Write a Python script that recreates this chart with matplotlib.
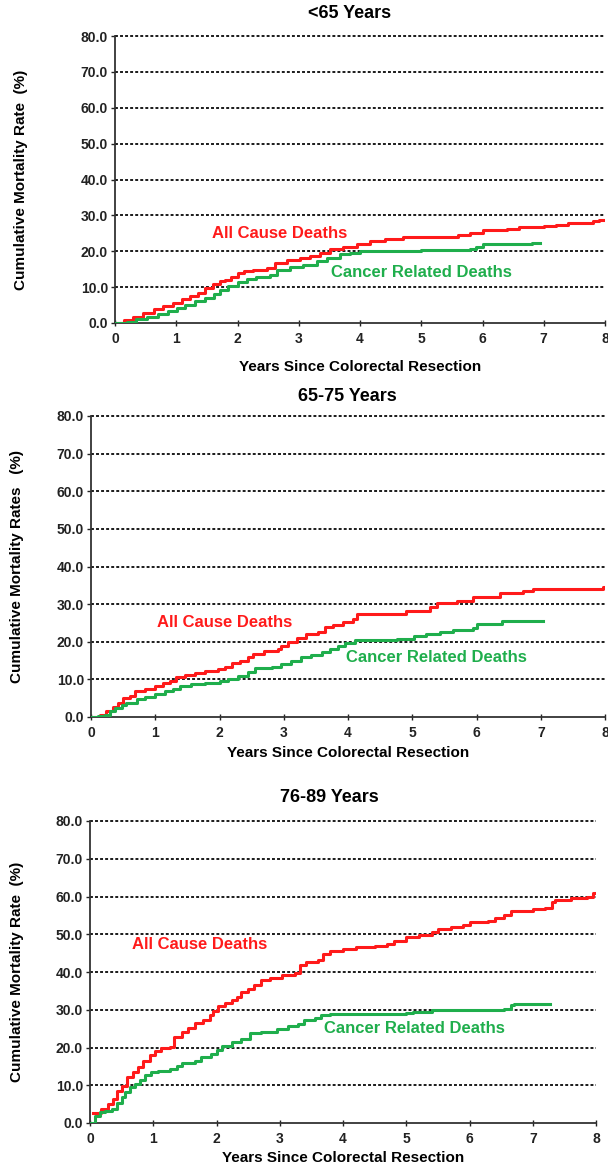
import matplotlib
matplotlib.use("Agg")
from matplotlib import pyplot as plt

plt.rcParams['font.family'] = ['Liberation Sans', 'DejaVu Sans']

titles = ["<65 Years", "65-75 Years", "76-89 Years"]
ylabels = ["Cumulative Mortality Rate  (%)",
           "Cumulative Mortality Rates   (%)",
           "Cumulative Mortality Rate  (%)"]
xlabel = "Years Since Colorectal Resection"
yticks = [0, 10, 20, 30, 40, 50, 60, 70, 80]
xticks = [0, 1, 2, 3, 4, 5, 6, 7, 8]

# <65 years
t_all_1 = [0, 0.14, 0.3, 0.46, 0.63, 0.79, 0.95, 1.09, 1.22, 1.36, 1.47, 1.6, 1.71, 1.8,
           1.9, 2.01, 2.1, 2.26, 2.48, 2.61, 2.8, 3.02, 3.18, 3.35, 3.51, 3.73, 3.95, 4.16,
           4.4, 4.7, 5.5, 5.6, 5.8, 6.0, 6.4, 6.6, 7.0, 7.2, 7.4, 7.8, 7.9, 8.0]
y_all_1 = [0, 0.8, 1.8, 2.9, 3.8, 4.8, 5.7, 6.6, 7.4, 8.5, 9.7, 10.9, 11.6, 12.1,
           12.8, 13.9, 14.4, 14.9, 15.3, 16.7, 17.5, 18.1, 18.8, 19.5, 20.5, 21.2, 22.1, 22.8,
           23.3, 24.0, 24.0, 24.5, 25.2, 25.9, 26.2, 26.8, 27.0, 27.4, 27.9, 28.3, 28.8, 28.8]
t_can_1 = [0, 0.19, 0.35, 0.52, 0.71, 0.87, 1.01, 1.14, 1.31, 1.47, 1.61, 1.71, 1.85, 2.01,
           2.15, 2.31, 2.53, 2.64, 2.86, 3.07, 3.29, 3.46, 3.67, 3.84, 4.0, 5.0, 5.8, 5.9,
           6.0, 6.75, 6.8, 6.94]
y_can_1 = [0, 0.4, 1.0, 1.8, 2.5, 3.4, 4.1, 5.0, 6.0, 6.9, 8.1, 9.1, 10.2, 11.3,
           12.2, 12.8, 13.5, 14.9, 15.6, 16.3, 17.2, 18.1, 19.1, 19.5, 20.0, 20.3, 20.6, 21.2,
           21.9, 21.9, 22.2, 22.2]

# 65-75 years
t_all_2 = [0, 0.14, 0.24, 0.35, 0.42, 0.5, 0.61, 0.68, 0.84, 0.99, 1.12, 1.23, 1.33, 1.46,
           1.62, 1.77, 1.98, 2.08, 2.19, 2.32, 2.45, 2.52, 2.7, 2.91, 2.96, 3.07, 3.2, 3.35,
           3.53, 3.64, 3.77, 3.92, 4.08, 4.14, 4.65, 4.91, 5.28, 5.38, 5.69, 5.95, 6.37,
           6.73, 6.88, 7.97, 8.0]
y_all_2 = [0, 0.5, 1.6, 2.7, 3.8, 5.0, 5.6, 6.8, 7.4, 8.3, 9.0, 9.6, 10.7, 11.2,
           11.8, 12.3, 12.8, 13.4, 14.3, 15.0, 15.9, 16.8, 17.5, 18.1, 19.0, 19.9, 21.1, 22.0,
           22.6, 23.9, 24.4, 25.3, 26.0, 27.3, 27.5, 28.3, 29.2, 30.4, 30.8, 31.9, 33.0,
           33.5, 33.9, 34.6, 34.6]
t_can_2 = [0, 0.11, 0.22, 0.3, 0.37, 0.48, 0.55, 0.71, 0.84, 0.99, 1.15, 1.28, 1.38, 1.56,
           1.77, 2.0, 2.13, 2.29, 2.45, 2.55, 2.81, 2.96, 3.12, 3.27, 3.43, 3.59, 3.72, 3.84,
           3.95, 4.11, 4.76, 5.02, 5.22, 5.43, 5.64, 5.95, 6.0, 6.31, 6.39, 7.04]
y_can_2 = [0, 0.2, 0.5, 1.6, 2.5, 3.2, 3.8, 4.7, 5.4, 6.2, 7.0, 7.4, 8.3, 8.8,
           9.0, 9.5, 10.1, 11.0, 11.9, 12.9, 13.4, 14.1, 15.0, 15.9, 16.5, 17.2, 18.1, 18.8,
           19.6, 20.4, 20.6, 21.5, 22.1, 22.7, 23.0, 23.7, 24.6, 24.8, 25.5, 25.5]

# 76-89 years
t_all_3 = [0.05, 0.18, 0.29, 0.37, 0.42, 0.5, 0.58, 0.68, 0.76, 0.84, 0.95, 1.03, 1.13, 1.26,
           1.33, 1.45, 1.55, 1.66, 1.79, 1.9, 1.95, 2.03, 2.13, 2.24, 2.32, 2.39, 2.5, 2.6,
           2.71, 2.84, 3.03, 3.24, 3.32, 3.42, 3.61, 3.68, 3.79, 4.0, 4.2, 4.5, 4.7, 4.8, 5.0,
           5.2, 5.4, 5.5, 5.7, 5.9, 6.0, 6.3, 6.4, 6.55, 6.65, 7.0, 7.2, 7.3, 7.35, 7.6, 7.85,
           7.95, 8.0]
y_all_3 = [2.6, 3.7, 5.0, 6.4, 8.6, 9.7, 12.1, 13.5, 14.8, 16.5, 17.9, 19.0, 19.9, 20.1,
           22.7, 24.1, 25.2, 26.5, 27.2, 28.5, 29.8, 30.9, 31.8, 32.5, 33.5, 34.7, 35.6, 36.5,
           37.8, 38.5, 39.1, 39.7, 41.8, 42.7, 43.3, 44.9, 45.6, 46.0, 46.5, 47.0, 47.5, 48.2, 49.3,
           49.8, 50.5, 51.5, 52.0, 52.5, 53.3, 53.5, 54.2, 55.0, 56.2, 56.8, 57.0, 58.5, 59.2, 59.5, 60.0,
           60.8, 60.8]
t_can_3 = [0, 0.08, 0.16, 0.24, 0.34, 0.42, 0.5, 0.55, 0.63, 0.71, 0.79, 0.87, 0.97, 1.08,
           1.26, 1.37, 1.45, 1.66, 1.76, 1.92, 2.0, 2.08, 2.24, 2.39, 2.53, 2.71, 2.95, 3.13,
           3.29, 3.39, 3.55, 3.66, 3.79, 5.0, 5.1, 5.4, 6.55, 6.65, 6.7, 7.28]
y_can_3 = [0, 1.9, 2.8, 3.3, 3.7, 5.2, 6.8, 8.1, 9.5, 10.2, 11.4, 12.6, 13.5, 13.9,
           14.3, 15.2, 15.8, 16.5, 17.4, 18.3, 19.4, 20.5, 21.4, 22.3, 23.8, 24.1, 25.0, 25.6,
           26.3, 27.3, 27.9, 28.5, 28.9, 29.2, 29.5, 30.0, 30.2, 31.2, 31.6, 31.6]

curves = [(t_all_1, y_all_1, t_can_1, y_can_1),
          (t_all_2, y_all_2, t_can_2, y_can_2),
          (t_all_3, y_all_3, t_can_3, y_can_3)]

red = "#ff1a1a"
green = "#1fae4c"

W, H = 608, 1165
# pixel boxes: left, right, top, bottom
boxes = [(115, 605, 36, 323), (91, 605, 416, 717), (90, 596, 821, 1123)]
ylab_x = [21, 17, 17]
xlab_y = [367, 753, 1158]
title_px = [(350, 22), (347, 405), (329, 806)]
label_pos = [((2.68, 24.9), (5.01, 14.0)),
             ((2.08, 25.0), (5.38, 15.7)),
             ((1.74, 47.3), (5.13, 25.0))]

fig = plt.figure(figsize=(W / 100, H / 100), dpi=100)

for i in range(3):
    l, r, t, b = boxes[i]
    ax = fig.add_axes([l / W, 1 - b / H, (r - l) / W, (b - t) / H])
    ta, ya, tc, yc = curves[i]
    ax.plot(ta, ya, drawstyle="steps-post", color=red, lw=2.2, zorder=3)
    ax.plot(tc, yc, drawstyle="steps-post", color=green, lw=2.2, zorder=3)

    ax.set_xlim(0, 8)
    ax.set_ylim(0, 80)
    ax.set_xticks(xticks)
    ax.set_yticks(yticks)
    ax.set_yticklabels(["%.1f" % v for v in yticks], fontsize=10, fontweight="bold")
    ax.set_xticklabels([str(v) for v in xticks], fontsize=10, fontweight="bold")
    ax.tick_params(axis="y", length=3, width=1, pad=2, colors="#222222")
    ax.tick_params(axis="x", direction="inout", length=5, width=1, pad=4, colors="#222222")

    for v in yticks[1:]:
        ax.axhline(v, color="#1a1a1a", lw=1.4, ls=(0, (1.5, 1.1)), zorder=1, clip_on=False)

    for s in ["top", "right"]:
        ax.spines[s].set_visible(False)
    for s in ["left", "bottom"]:
        ax.spines[s].set_color("#333333")
        ax.spines[s].set_linewidth(1.3)

    ax.set_ylabel(ylabels[i], fontsize=11, fontweight="bold")
    ax.yaxis.set_label_coords((ylab_x[i] - l) / (r - l), 0.5)
    ax.yaxis.label.set_va("center")
    ax.set_xlabel(xlabel, fontsize=11, fontweight="bold")
    ax.xaxis.set_label_coords(0.5, (b - xlab_y[i]) / (b - t))
    ax.xaxis.label.set_va("center")

    tx, ty = title_px[i]
    ax.set_title(titles[i], x=(tx - l) / (r - l), y=(b - ty) / (b - t), va="center",
                 fontsize=13, fontweight="bold")

    (ax1, ay1), (cx1, cy1) = label_pos[i]
    ax.text(ax1, ay1, "All Cause Deaths", color=red, fontsize=12, fontweight="bold",
            ha="center", va="center")
    ax.text(cx1, cy1, "Cancer Related Deaths", color=green, fontsize=12, fontweight="bold",
            ha="center", va="center")

fig.savefig("out.png", dpi=100)
